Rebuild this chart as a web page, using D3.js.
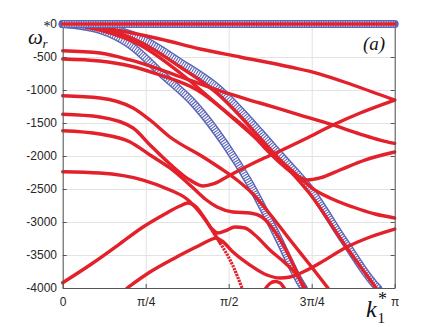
<!DOCTYPE html>
<html>
<head>
<meta charset="utf-8">
<script src="https://cdn.jsdelivr.net/npm/d3@7"></script>
<style>
  body { margin: 0; background: #fff; }
  svg { display: block; }
</style>
</head>
<body>
<div id="chart"></div>
<script>
const kTicks = [0, 0.25, 0.5, 0.75, 1];
const kTickLabels = ['0', 'π/4', 'π/2', '3π/4', 'π'];
const wTicks = [0, -500, -1000, -1500, -2000, -2500, -3000, -3500, -4000];

// blue open-circle branches
const blueZero = [[0, 0], [1, 0]];
const blueA = [[0, 0], [0.112, -91], [0.203, -318], [0.302, -773], [0.399, -1227], [0.489, -1818],
  [0.564, -2420], [0.64, -3150], [0.724, -3985], [0.726, -4000]];
const blueB = [[0, 0], [0.112, -45], [0.233, -212], [0.353, -576], [0.474, -1000], [0.534, -1303],
  [0.594, -1636], [0.655, -1985], [0.745, -2500], [0.85, -3303], [0.947, -3985], [0.95, -4000]];

// red branches
const redZero = [[0, 0], [1, 0]];
const red1 = [[0, 0], [0.142, -76], [0.293, -227], [0.414, -379], [0.534, -500], [0.685, -652],
  [0.775, -758], [0.874, -924], [1, -1152]];
const redA = [[0, -405], [0.112, -439], [0.203, -545], [0.332, -758], [0.474, -1015], [0.594, -1197],
  [0.715, -1379], [0.814, -1530], [0.896, -1667], [0.956, -1758], [1, -1810]];
const redB = [[0, -530], [0.112, -561], [0.203, -636], [0.293, -773], [0.405, -1000], [0.504, -1379],
  [0.564, -1636], [0.609, -1879], [0.655, -2106], [0.7, -2288], [0.739, -2364], [0.775, -2333],
  [0.835, -2212], [0.91, -2061], [1, -1939]];
const red2 = [[0, 0], [0.112, -61], [0.233, -273], [0.354, -652], [0.474, -1091], [0.534, -1394],
  [0.594, -1727], [0.655, -2061], [0.745, -2576], [0.85, -3349], [0.944, -4000]];
const red3 = [[0, 0], [0.112, -91], [0.233, -318], [0.354, -742], [0.474, -1258], [0.564, -1652],
  [0.655, -2061], [0.715, -2333], [0.751, -2485], [0.805, -2636], [0.874, -2773], [0.941, -2879],
  [1, -2939]];
const redC = [[0, -1086], [0.112, -1121], [0.212, -1273], [0.263, -1455], [0.323, -1712], [0.423, -2015],
  [0.474, -2182], [0.525, -2364], [0.573, -2576], [0.624, -2879], [0.685, -3273], [0.745, -3652],
  [0.799, -4000]];
const redD = [[0, -1368], [0.112, -1409], [0.212, -1576], [0.263, -1833], [0.323, -2121], [0.383, -2364],
  [0.423, -2455], [0.453, -2424], [0.489, -2333], [0.534, -2212], [0.594, -2061], [0.648, -1939],
  [0.73, -1742], [0.814, -1530], [0.896, -1348], [1, -1152]];
const redE = [[0, -1617], [0.112, -1667], [0.203, -1788], [0.263, -1985], [0.323, -2182], [0.393, -2485],
  [0.429, -2652], [0.465, -2773], [0.513, -2848], [0.564, -2864], [0.6, -2924], [0.64, -3152],
  [0.685, -3545], [0.726, -4000]];
const redF = [[0, -2238], [0.112, -2258], [0.242, -2364], [0.323, -2515], [0.374, -2652], [0.414, -2864],
  [0.444, -3076], [0.474, -3318]];
// steep tail of the same branch, where the markers thin out into dots
const redFTail = [[0.474, -3318], [0.513, -3667], [0.54, -4000]];
const redG = [[0, -3920], [0.091, -3621], [0.167, -3349], [0.242, -3076], [0.308, -2879], [0.353, -2758],
  [0.377, -2712], [0.402, -2773], [0.429, -2955], [0.45, -3106], [0.468, -3167], [0.489, -3136],
  [0.519, -3076], [0.549, -3091], [0.579, -3197], [0.624, -3424], [0.67, -3621], [0.7, -3773],
  [0.73, -4000]];
const redH = [[0.194, -4000], [0.263, -3758], [0.338, -3545], [0.414, -3349], [0.444, -3273], [0.462, -3242],
  [0.48, -3288], [0.513, -3455], [0.564, -3652], [0.615, -3803], [0.655, -3848], [0.685, -3833],
  [0.73, -3742], [0.775, -3621], [0.856, -3379], [0.926, -3227], [1, -3106]];
const redLoop = [[0.612, -4000], [0.624, -3932], [0.64, -3902], [0.655, -3924], [0.667, -4000]];

const blueSeries = [blueZero, blueA, blueB];
const redSeries = [redZero, red1, redA, redB, red2, red3, redC, redD, redE, redF, redG, redH, redLoop];

const width = 436, height = 327;
const plot = { left: 62.7, right: 394.7, top: 24, bottom: 288 };

const x = d3.scaleLinear().domain([0, 1]).range([plot.left, plot.right]);
const y = d3.scaleLinear().domain([-4000, 0]).range([plot.bottom, plot.top]);

const svg = d3.select('#chart').append('svg')
    .attr('width', width)
    .attr('height', height)
    .attr('font-family', '"Liberation Sans", Arial, sans-serif');

// grid
svg.append('g')
    .attr('transform', `translate(0,${plot.bottom})`)
    .call(d3.axisBottom(x).tickValues(kTicks).tickSize(-(plot.bottom - plot.top)).tickFormat(''))
    .call(g => g.select('.domain').remove())
    .call(g => g.selectAll('line').attr('stroke', '#e3e3e3'));
svg.append('g')
    .attr('transform', `translate(${plot.left},0)`)
    .call(d3.axisLeft(y).tickValues(wTicks).tickSize(-(plot.right - plot.left)).tickFormat(''))
    .call(g => g.select('.domain').remove())
    .call(g => g.selectAll('line').attr('stroke', '#e3e3e3'));

svg.append('clipPath').attr('id', 'clip')
  .append('rect')
    .attr('x', plot.left - 8).attr('y', plot.top - 8)
    .attr('width', plot.right - plot.left + 16)
    .attr('height', plot.bottom - plot.top + 8.5);

const line = d3.line()
    .x(d => x(d[0]))
    .y(d => y(d[1]))
    .curve(d3.curveMonotoneX);

const curves = svg.append('g').attr('clip-path', 'url(#clip)').attr('fill', 'none');

// blue circle bands: a blue ribbon hatched with white to mimic dense open markers
const blueColor = '#5b66b8';
const redColor = '#e3212b';
const drawBlue = (sel, data) => {
  sel.selectAll('path.blue')
    .data(data)
    .join('path')
      .attr('class', 'blue')
      .attr('d', line)
      .attr('stroke', blueColor)
      .attr('stroke-width', 8)
      .attr('stroke-linecap', 'round');
  sel.selectAll('path.blue-hatch')
    .data(data)
    .join('path')
      .attr('class', 'blue-hatch')
      .attr('d', line)
      .attr('stroke', '#fff')
      .attr('stroke-width', 5.2)
      .attr('stroke-dasharray', '1.3 1.1');
};
const drawRed = (sel, data) => {
  sel.selectAll('path.red')
    .data(data)
    .join('path')
      .attr('class', 'red')
      .attr('d', line)
      .attr('stroke', redColor)
      .attr('stroke-width', 3.4)
      .attr('stroke-linecap', 'round')
      .attr('stroke-linejoin', 'round');
};

drawBlue(curves, blueSeries.slice(1));
drawRed(curves, redSeries.slice(1));
curves.append('path')
    .datum(redFTail)
    .attr('d', line)
    .attr('stroke', redColor)
    .attr('stroke-width', 3.2)
    .attr('stroke-dasharray', '2.2 1');

// axes (box with inward ticks, MATLAB style)
const axisColor = '#555';
const styleAxis = g => {
  g.select('.domain').attr('stroke', axisColor);
  g.selectAll('.tick line').attr('stroke', axisColor);
  g.selectAll('.tick text').attr('fill', '#262626').attr('font-size', 12);
};

svg.append('g')
    .attr('transform', `translate(0,${plot.bottom})`)
    .call(d3.axisBottom(x).tickValues(kTicks).tickSizeInner(-4).tickSizeOuter(0).tickPadding(9.5)
      .tickFormat((d, i) => kTickLabels[i]))
    .call(styleAxis);
svg.append('g')
    .attr('transform', `translate(0,${plot.top})`)
    .call(d3.axisTop(x).tickValues(kTicks).tickSizeInner(-4).tickSizeOuter(0).tickFormat(''))
    .call(styleAxis);
svg.append('g')
    .attr('transform', `translate(${plot.left},0)`)
    .call(d3.axisLeft(y).tickValues(wTicks).tickSizeInner(-4).tickSizeOuter(0).tickPadding(5.7)
      .tickFormat(d => String(d)))
    .call(styleAxis);
svg.append('g')
    .attr('transform', `translate(${plot.right},0)`)
    .call(d3.axisRight(y).tickValues(wTicks).tickSizeInner(-4).tickSizeOuter(0).tickFormat(''))
    .call(styleAxis);

// the zero branch sits on the top edge, drawn over the box
const zeroBand = svg.append('g').attr('fill', 'none');
drawBlue(zeroBand, [blueZero]);
drawRed(zeroBand, [redZero]);

// axis labels, each one text with sub/superscript tspans
const serif = '"Liberation Serif", "Times New Roman", serif';
const yLabel = svg.append('text').attr('font-family', serif).attr('fill', '#111');
yLabel.append('tspan').attr('x', 28).attr('y', 43.5).attr('font-size', 21).attr('font-style', 'italic').text('ω');
yLabel.append('tspan').attr('x', 43.5).attr('y', 30.5).attr('font-size', 14).text('*');
yLabel.append('tspan').attr('x', 42.5).attr('y', 47.5).attr('font-size', 13).attr('font-style', 'italic').text('r');

const xLabel = svg.append('text').attr('font-family', serif).attr('fill', '#111');
xLabel.append('tspan').attr('x', 366).attr('y', 317).attr('font-size', 24).attr('font-style', 'italic').text('k');
xLabel.append('tspan').attr('x', 378).attr('y', 305).attr('font-size', 18).text('*');
xLabel.append('tspan').attr('x', 377.5).attr('y', 323).attr('font-size', 15).text('1');

svg.append('text')
    .attr('x', 363).attr('y', 49.5)
    .attr('font-family', serif)
    .attr('font-size', 19)
    .attr('font-style', 'italic')
    .attr('fill', '#111')
    .text('(a)');
</script>
</body>
</html>
